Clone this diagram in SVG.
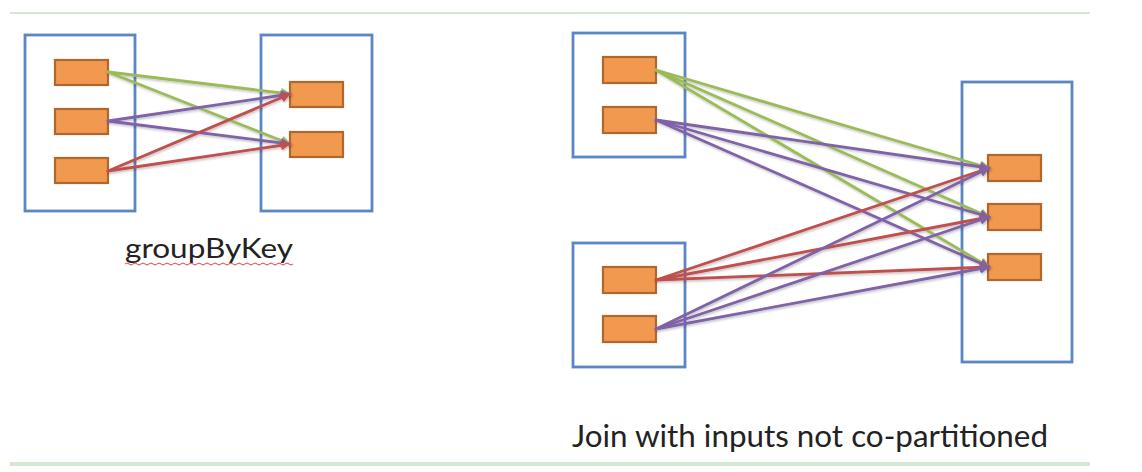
<svg xmlns="http://www.w3.org/2000/svg" width="1142" height="472" viewBox="0 0 1142 472">
<style>
.box{fill:#fff;stroke:#5b86c5;stroke-width:2.8}
.part{fill:#f0994f;stroke:#b3662c;stroke-width:2.2}
.c{fill:none;stroke-width:2.8;stroke-linecap:round}
.g{stroke:#9bbb59}.p{stroke:#7f62a8}.r{stroke:#c0504d}
.lbl{font-family:Lato,"Liberation Sans",sans-serif;fill:#222}
</style>
<defs>
<filter id="sh" x="-5%" y="-20%" width="110%" height="140%"><feDropShadow dx="1" dy="1.5" stdDeviation="1" flood-color="#000" flood-opacity="0.25"/></filter>
<marker id="ag" viewBox="0 0 10 10" refX="9" refY="5" markerWidth="12" markerHeight="10" markerUnits="userSpaceOnUse" orient="auto"><path d="M0,0 L10,5 L0,10 z" fill="#9bbb59"/></marker>
<marker id="ap" viewBox="0 0 10 10" refX="9" refY="5" markerWidth="12" markerHeight="10" markerUnits="userSpaceOnUse" orient="auto"><path d="M0,0 L10,5 L0,10 z" fill="#7f62a8"/></marker>
<marker id="ar" viewBox="0 0 10 10" refX="9" refY="5" markerWidth="12" markerHeight="10" markerUnits="userSpaceOnUse" orient="auto"><path d="M0,0 L10,5 L0,10 z" fill="#c0504d"/></marker>
</defs>
<rect x="10" y="12" width="1080" height="2" fill="#d6e9d0"/>
<rect x="10" y="462" width="1080" height="4" fill="#d5e8cf"/>
<g id="groupByKey-src">
<rect class="box" x="25" y="35" width="110" height="176"/>
<rect class="part" x="55" y="60" width="53" height="25"/>
<rect class="part" x="55" y="109" width="53" height="25"/>
<rect class="part" x="55" y="158" width="53" height="25"/>
</g>
<g id="groupByKey-dst">
<rect class="box" x="261" y="35" width="111" height="176"/>
<rect class="part" x="290" y="82" width="53" height="25"/>
<rect class="part" x="290" y="132" width="53" height="25"/>
</g>
<g id="join-src-a">
<rect class="box" x="573" y="33" width="112" height="124"/>
<rect class="part" x="603" y="57" width="53" height="26"/>
<rect class="part" x="603" y="107" width="53" height="26"/>
</g>
<g id="join-src-b">
<rect class="box" x="573" y="243" width="112" height="124"/>
<rect class="part" x="603" y="267" width="53" height="26"/>
<rect class="part" x="603" y="316" width="53" height="26"/>
</g>
<g id="join-dst">
<rect class="box" x="962" y="82" width="110" height="280"/>
<rect class="part" x="988" y="155" width="53" height="26"/>
<rect class="part" x="988" y="204" width="53" height="26"/>
<rect class="part" x="988" y="254" width="53" height="26"/>
</g>
<g id="connectors" filter="url(#sh)">
<line class="c g" x1="108" y1="72" x2="290" y2="94" marker-end="url(#ag)"/>
<line class="c g" x1="108" y1="72" x2="290" y2="144" marker-end="url(#ag)"/>
<line class="c p" x1="108" y1="121" x2="290" y2="94" marker-end="url(#ap)"/>
<line class="c p" x1="108" y1="121" x2="290" y2="144" marker-end="url(#ap)"/>
<line class="c r" x1="108" y1="171" x2="290" y2="94" marker-end="url(#ar)"/>
<line class="c r" x1="108" y1="171" x2="290" y2="144" marker-end="url(#ar)"/>
<line class="c g" x1="656" y1="70" x2="989" y2="168" marker-end="url(#ag)"/>
<line class="c g" x1="656" y1="70" x2="989" y2="217" marker-end="url(#ag)"/>
<line class="c g" x1="656" y1="70" x2="989" y2="267" marker-end="url(#ag)"/>
<line class="c p" x1="656" y1="120" x2="989" y2="168" marker-end="url(#ap)"/>
<line class="c p" x1="656" y1="120" x2="989" y2="217" marker-end="url(#ap)"/>
<line class="c p" x1="656" y1="120" x2="989" y2="267" marker-end="url(#ap)"/>
<line class="c r" x1="656" y1="280" x2="989" y2="168" marker-end="url(#ar)"/>
<line class="c r" x1="656" y1="280" x2="989" y2="217" marker-end="url(#ar)"/>
<line class="c r" x1="656" y1="280" x2="989" y2="267" marker-end="url(#ar)"/>
<line class="c p" x1="656" y1="329" x2="989" y2="168" marker-end="url(#ap)"/>
<line class="c p" x1="656" y1="329" x2="989" y2="217" marker-end="url(#ap)"/>
<line class="c p" x1="656" y1="329" x2="989" y2="267" marker-end="url(#ap)"/>
</g>
<text class="lbl" x="125" y="258" font-size="27" textLength="168" lengthAdjust="spacingAndGlyphs">groupByKey</text>
<path d="M125,264 q2,-2 4,0 t4,0 t4,0 t4,0 t4,0 t4,0 t4,0 t4,0 t4,0 t4,0 t4,0 t4,0 t4,0 t4,0 t4,0 t4,0 t4,0 t4,0 t4,0 t4,0 t4,0 t4,0 t4,0 t4,0 t4,0 t4,0 t4,0 t4,0 t4,0 t4,0 t4,0 t4,0 t4,0 t4,0 t4,0 t4,0 t4,0 t4,0 t4,0 t4,0 t4,0 t4,0" fill="none" stroke="#e04040" stroke-width="1"/>
<text class="lbl" x="572" y="447" font-size="31" textLength="476" lengthAdjust="spacingAndGlyphs">Join with inputs not co-partitioned</text>
</svg>
